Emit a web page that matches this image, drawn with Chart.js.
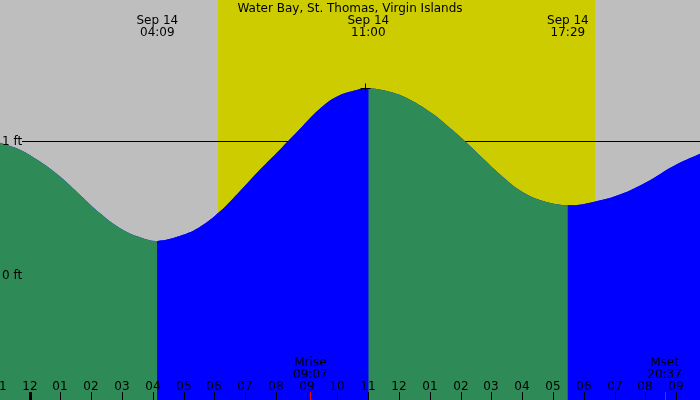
<!DOCTYPE html>
<html>
<head>
<meta charset="utf-8">
<title>Water Bay tide chart</title>
<script src="https://cdn.jsdelivr.net/npm/chart.js@4.4.1/dist/chart.umd.min.js"></script>
<style>
  html, body { margin: 0; padding: 0; background: #bebebe; }
  #wrap { width: 700px; height: 400px; }
</style>
</head>
<body>
<div id="wrap"><canvas id="tideChart" width="700" height="400"></canvas></div>
<script>
// Tide height (ft), hours since midnight Sep 14
const tideHours = [-0.958, -0.31, 0.34, 0.99, 1.64, 2.29, 2.94, 3.59, 4.15,
  4.99, 5.54, 6.19, 6.83, 7.48, 8.13, 8.40, 8.78, 9.40, 9.97, 10.62, 11.00,
  11.81, 12.46, 13.11, 13.33, 14.13, 14.63, 15.28, 15.93, 16.57, 17.48,
  18.31, 19.17, 20.04, 20.90, 21.77];
const tideFeet = [0.987, 0.935, 0.846, 0.734, 0.597, 0.460, 0.349, 0.281, 0.254,
  0.30, 0.36, 0.475, 0.625, 0.785, 0.935, 1.00, 1.09, 1.235, 1.33, 1.38, 1.393,
  1.36, 1.295, 1.20, 1.16, 1.00, 0.89, 0.75, 0.63, 0.56, 0.52,
  0.545, 0.60, 0.694, 0.812, 0.904];

// High / low tides
const extremeHours = [4.15, 11.00, 17.48];
const extremeDates = ['Sep 14', 'Sep 14', 'Sep 14'];
const extremeTimes = ['04:09', '11:00', '17:29'];

// Hour ticks along the bottom
const tickHours = [-1, 0, 1, 2, 3, 4, 5, 6, 7, 8, 9, 10, 11, 12, 13, 14, 15, 16, 17, 18, 19, 20, 21];
const tickLabels = ['11', '12', '01', '02', '03', '04', '05', '06', '07', '08', '09', '10',
  '11', '12', '01', '02', '03', '04', '05', '06', '07', '08', '09'];

// Daylight and moon
const sunriseHour = 6.11;
const sunsetHour = 18.36;
const moonHours = [9.12, 20.62];
const moonNames = ['Mrise', 'Mset'];
const moonTimes = ['09:07', '20:37'];

const feetLines = [1, 0];
const feetLabels = ['1 ft', '0 ft'];

const title = 'Water Bay, St. Thomas, Virgin Islands';

const colors = {
  night: '#bebebe',
  day: '#cccc00',
  falling: '#2e8b57',
  rising: '#0000ff'
};
const FONT = '12px "DejaVu Sans", sans-serif';

const xMin = -0.958, xMax = 21.77;

const tidePoints = tideHours.map((h, i) => ({ x: h, y: tideFeet[i] }));

// same curve twice: a plain blue fill underneath hides seams,
// the top one is coloured green where the water is falling
function buildDatasets() {
  const common = {
    data: tidePoints,
    fill: 'start',
    borderWidth: 0,
    pointRadius: 0,
    tension: 0.4
  };
  return [
    Object.assign({}, common, {
      backgroundColor: colors.rising,
      segment: {
        backgroundColor: c => c.p1.parsed.y < c.p0.parsed.y ? colors.falling : colors.rising
      },
      order: 0
    }),
    Object.assign({}, common, { backgroundColor: colors.rising, order: 1 })
  ];
}

const tidePlugin = {
  id: 'tideDecor',
  beforeDatasetsDraw(chart) {
    const { ctx, chartArea, scales } = chart;
    const x = scales.x, y = scales.y;
    ctx.save();
    ctx.fillStyle = colors.night;
    ctx.fillRect(0, 0, chart.width, chart.height);
    const x0 = Math.round(x.getPixelForValue(sunriseHour));
    const x1 = Math.round(x.getPixelForValue(sunsetHour));
    ctx.fillStyle = colors.day;
    ctx.fillRect(x0, 0, x1 - x0, chart.height);

    // reference lines (under the water)
    ctx.strokeStyle = '#000';
    ctx.lineWidth = 1;
    feetLines.forEach(v => {
      const py = Math.round(y.getPixelForValue(v)) + 0.5;
      ctx.beginPath();
      ctx.moveTo(22, py);
      ctx.lineTo(chartArea.right, py);
      ctx.stroke();
    });
    ctx.restore();
  },
  afterDatasetsDraw(chart) {
    const { ctx, scales } = chart;
    const x = scales.x, y = scales.y;
    ctx.save();
    ctx.font = FONT;
    ctx.fillStyle = '#000';
    ctx.textBaseline = 'alphabetic';

    // level labels
    ctx.textAlign = 'left';
    feetLabels.forEach((lbl, i) => {
      ctx.fillText(lbl, 2, y.getPixelForValue(feetLines[i]) + 4);
    });

    // title and high/low labels
    ctx.textAlign = 'center';
    ctx.fillText(title, 350, 12);
    extremeHours.forEach((h, i) => {
      const px = x.getPixelForValue(h);
      ctx.fillText(extremeDates[i], px, 24);
      ctx.fillText(extremeTimes[i], px, 36);
    });

    // cross at the high tide
    const hi = extremeHours[1];
    const cx = Math.round(x.getPixelForValue(hi)) - 3 + 0.5;
    const cy = Math.round(y.getPixelForValue(tideFeet[tideHours.indexOf(hi)])) + 0.5;
    ctx.strokeStyle = '#000';
    ctx.lineWidth = 1;
    ctx.beginPath();
    ctx.moveTo(cx - 5, cy); ctx.lineTo(cx + 5, cy);
    ctx.moveTo(cx, cy - 5); ctx.lineTo(cx, cy + 5);
    ctx.stroke();

    // hour ticks
    tickHours.forEach((h, i) => {
      const px = Math.round(x.getPixelForValue(h));
      ctx.fillText(tickLabels[i], px, 390);
      if (h === 0) {
        ctx.fillRect(px - 1, 392, 3, 8);
      } else {
        ctx.fillRect(px, 392, 1, 8);
      }
    });

    // moon rise / set
    moonHours.forEach((h, i) => {
      const px = x.getPixelForValue(h);
      ctx.fillStyle = '#000';
      ctx.fillText(moonNames[i], px, 366);
      ctx.fillText(moonTimes[i], px, 378);
      ctx.fillStyle = '#ff0000';
      ctx.fillRect(Math.round(px), 392, 1, 8);
    });
    ctx.restore();
  }
};

document.addEventListener('DOMContentLoaded', function() {
  const ctx = document.getElementById('tideChart').getContext('2d');
  new Chart(ctx, {
    type: 'line',
    data: { datasets: buildDatasets() },
    options: {
      responsive: false,
      animation: false,
      events: [],
      layout: { padding: 0 },
      scales: {
        x: { type: 'linear', min: xMin, max: xMax, display: false },
        y: { type: 'linear', min: -0.933, max: 2.052, display: false }
      },
      plugins: {
        legend: { display: false },
        tooltip: { enabled: false },
        title: { display: false }
      }
    },
    plugins: [tidePlugin]
  });
});
</script>
</body>
</html>
